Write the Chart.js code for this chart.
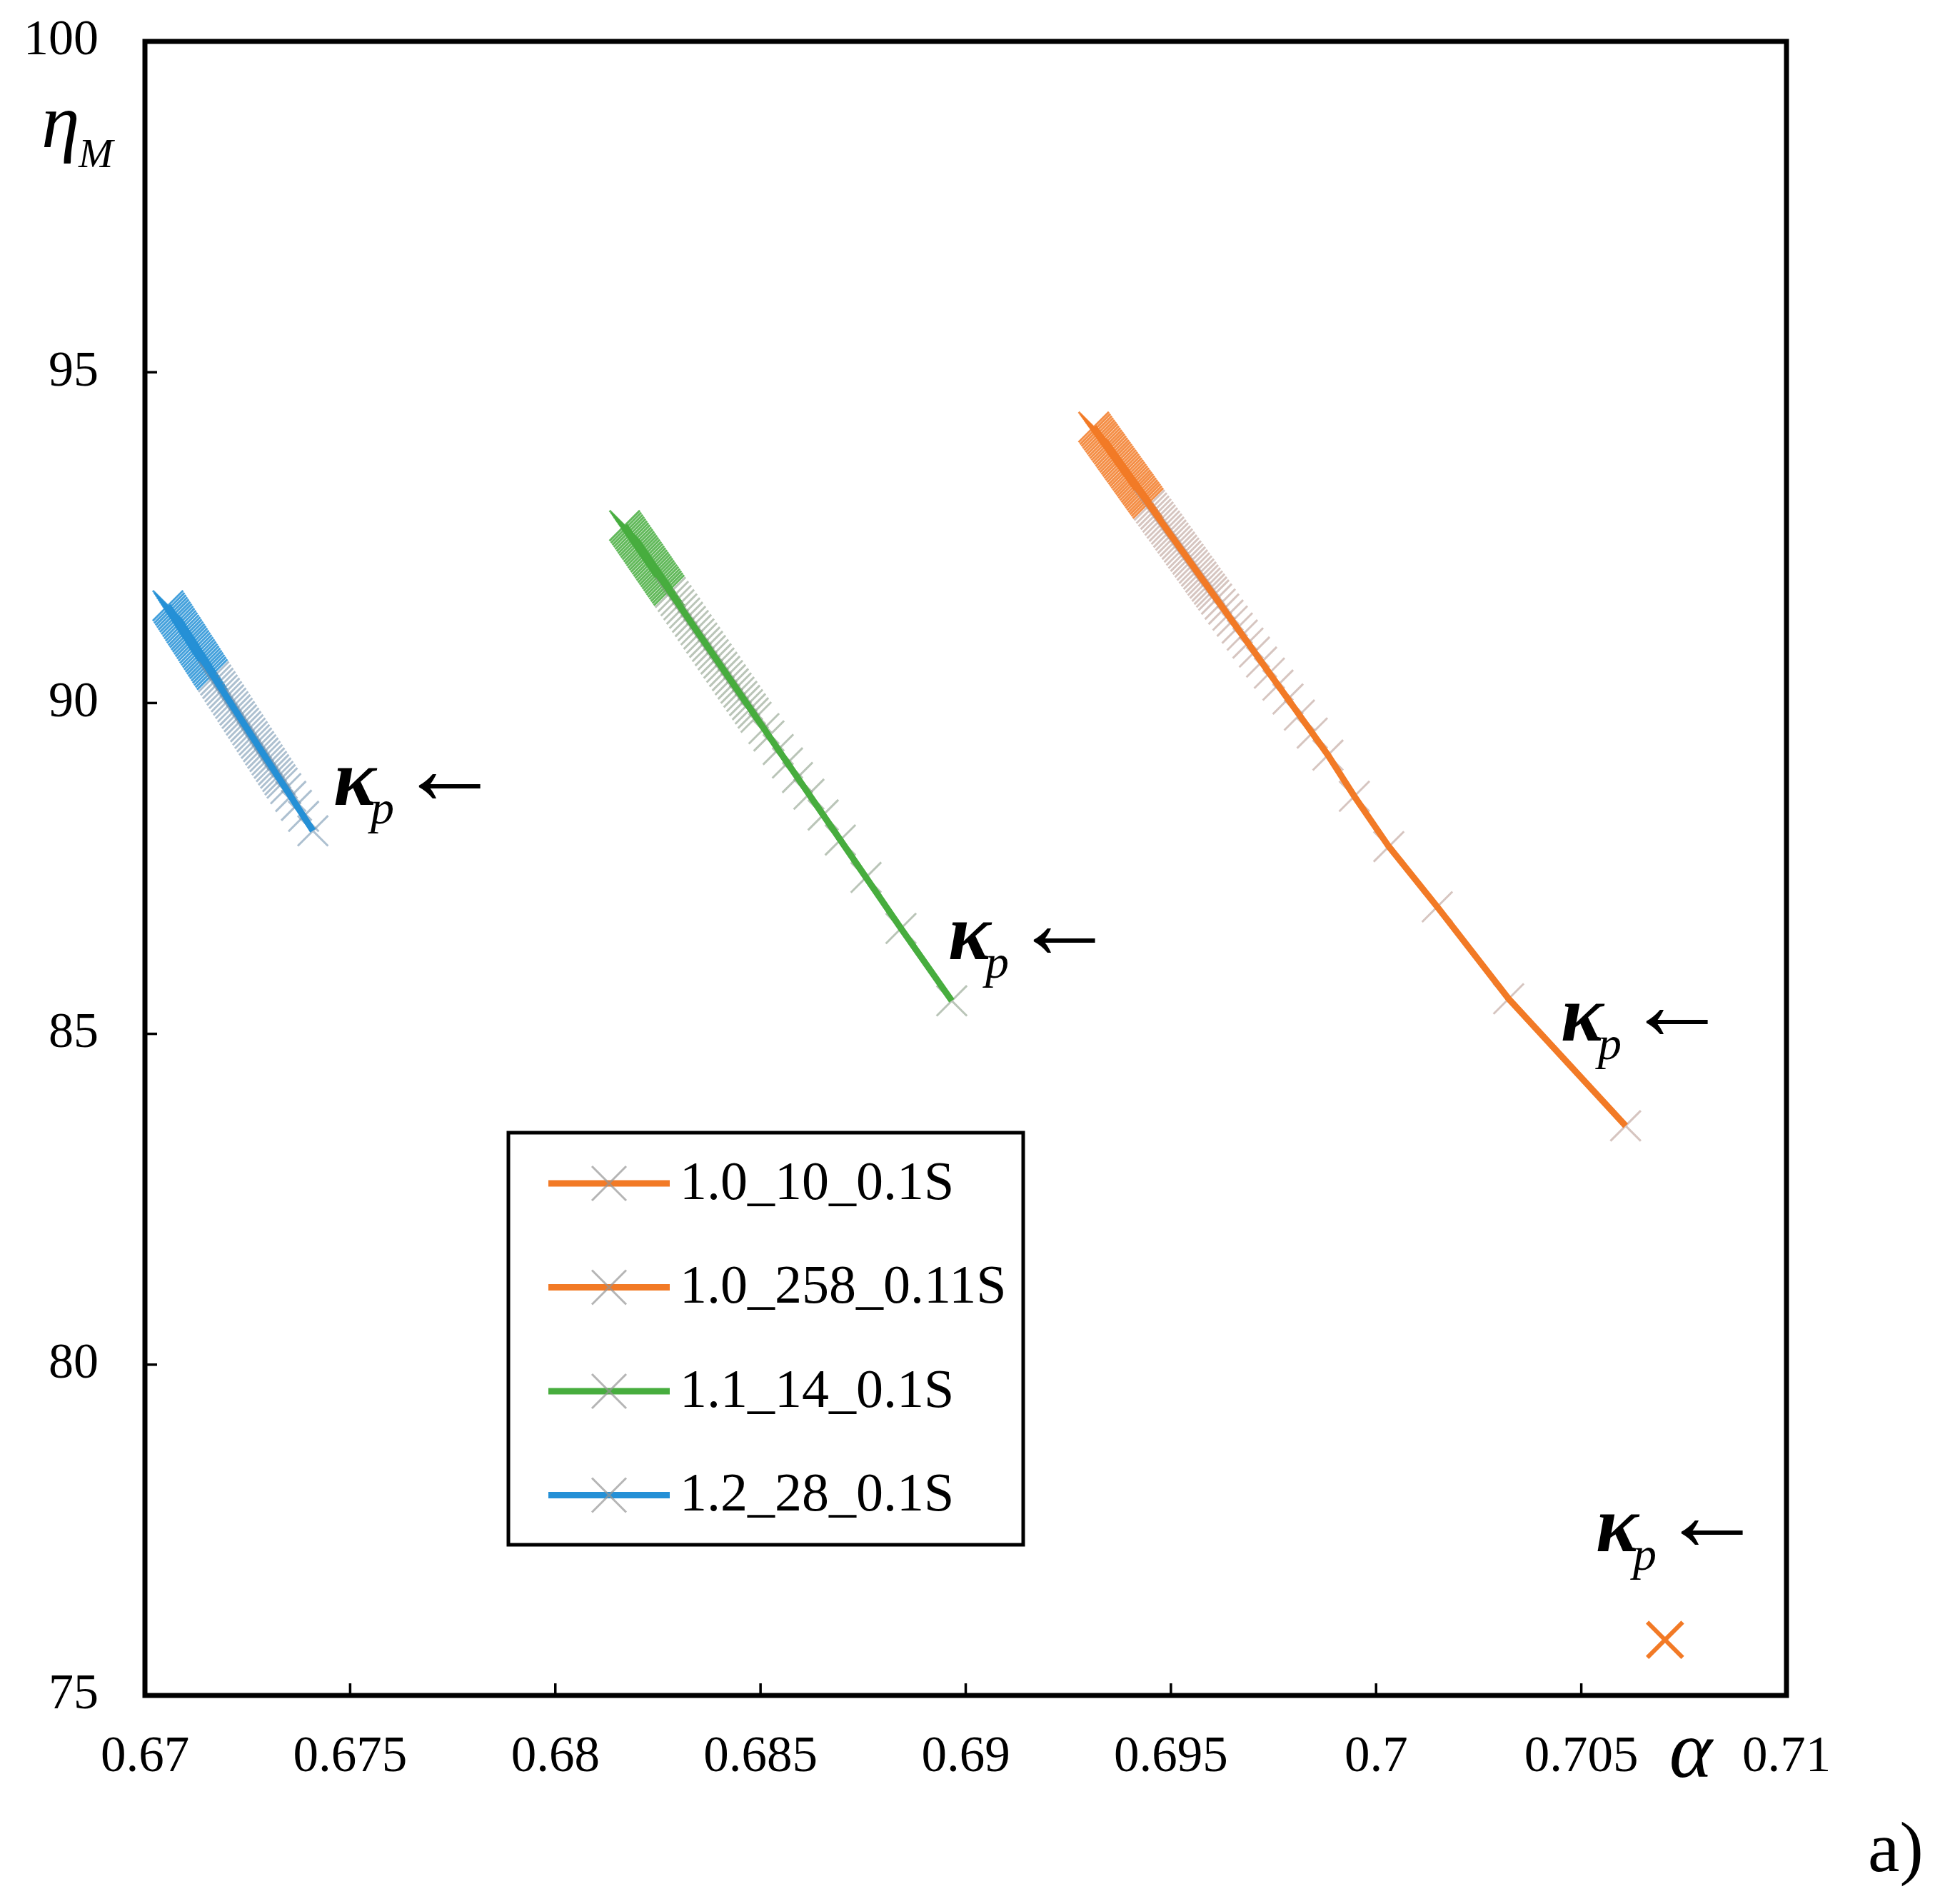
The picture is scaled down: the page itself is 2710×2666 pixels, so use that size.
<!DOCTYPE html>
<html>
<head>
<meta charset="utf-8">
<script src="https://cdn.jsdelivr.net/npm/chart.js@4.4.1/dist/chart.umd.min.js"></script>
<style>
html,body{margin:0;padding:0;background:#fff;}
canvas{display:block;}
</style>
</head>
<body>
<canvas id="c" width="2710" height="2666"></canvas>
<script>
// ---- data ----
const seriesNames = ['1.0_10_0.1S', '1.0_258_0.11S', '1.1_14_0.1S', '1.2_28_0.1S'];

// 1.0_10_0.1S (orange line) — points crowd together towards the top end
const alphaA = [
  0.693120,0.693155,0.693190,0.693224,0.693259,0.693294,0.693329,0.693364,0.693398,0.693433,
  0.693468,0.693503,0.693538,0.693572,0.693607,0.693642,0.693677,0.693712,0.693746,0.693781,
  0.693816,0.693851,0.693886,0.693920,0.693955,0.693990,0.694025,0.694060,0.694094,0.694129,
  0.694164,0.694199,0.694234,0.694268,0.694303,0.694338,0.694373,0.694408,0.694442,0.694477,
  0.694529,0.694582,0.694634,0.694686,0.694738,0.694790,0.694843,0.694895,0.694947,0.694999,
  0.695051,0.695103,0.695156,0.695208,0.695260,0.695312,0.695364,0.695417,0.695469,0.695521,
  0.695573,0.695625,0.695678,0.695730,0.695782,0.695834,0.695886,0.695939,0.695991,0.696043,
  0.696113,0.696200,0.696287,0.696391,0.696495,0.696617,0.696739,0.696878,0.697035,0.697209,
  0.697400,0.697609,0.697853,0.698131,0.698444,0.698827,0.69947,0.70031,0.70149,0.70323,0.70608];
const etaA = [
  94.170,94.140,94.110,94.079,94.049,94.019,93.989,93.958,93.928,93.898,
  93.868,93.838,93.807,93.777,93.747,93.717,93.686,93.656,93.626,93.596,
  93.566,93.535,93.505,93.475,93.445,93.414,93.384,93.354,93.324,93.293,
  93.263,93.233,93.203,93.173,93.142,93.112,93.082,93.052,93.021,92.991,
  92.946,92.901,92.855,92.810,92.765,92.719,92.674,92.629,92.583,92.538,
  92.493,92.447,92.402,92.357,92.311,92.266,92.221,92.175,92.130,92.085,
  92.039,91.994,91.949,91.903,91.858,91.813,91.767,91.722,91.677,91.631,
  91.571,91.495,91.420,91.329,91.238,91.133,91.027,90.906,90.770,90.619,
  90.452,90.271,90.060,89.818,89.546,89.213,88.59,87.83,86.92,85.53,83.61];

// 1.0_258_0.11S (single orange point)
const alphaB = [0.70704];
const etaB   = [75.84];

// 1.1_14_0.1S (green line)
const alphaC = [
  0.681690,0.681725,0.681760,0.681794,0.681829,0.681864,0.681899,0.681934,0.681968,0.682003,
  0.682038,0.682073,0.682108,0.682142,0.682177,0.682212,0.682247,0.682282,0.682316,0.682351,
  0.682386,0.682421,0.682456,0.682490,0.682525,0.682560,0.682595,0.682630,0.682664,0.682699,
  0.682734,0.682769,0.682804,
  0.682873,0.682943,0.683012,0.683082,0.683152,0.683221,0.683291,0.683360,0.683430,0.683499,
  0.683569,0.683639,0.683708,0.683778,0.683847,0.683917,0.683987,0.684056,0.684126,0.684195,
  0.684265,0.684335,0.684404,0.684474,0.684543,0.684613,0.684683,0.684752,0.684822,0.684891,
  0.685083,0.685205,0.685431,0.685657,0.685901,0.686179,0.686527,0.686945,0.687571,0.688423,0.689660];
const etaC = [
  92.680,92.649,92.617,92.586,92.554,92.523,92.491,92.460,92.428,92.397,
  92.365,92.334,92.303,92.271,92.240,92.208,92.177,92.145,92.114,92.082,
  92.051,92.019,91.988,91.957,91.925,91.894,91.862,91.831,91.799,91.768,
  91.736,91.705,91.673,
  91.610,91.548,91.485,91.422,91.359,91.296,91.233,91.170,91.107,91.044,
  90.981,90.918,90.856,90.793,90.730,90.667,90.604,90.541,90.478,90.415,
  90.352,90.289,90.226,90.164,90.101,90.038,89.975,89.912,89.849,89.786,
  89.613,89.503,89.298,89.094,88.874,88.622,88.308,87.930,87.364,86.593,85.500];

// 1.2_28_0.1S (blue line)
const alphaD = [
  0.670560,0.670595,0.670630,0.670664,0.670699,0.670734,0.670769,0.670804,0.670838,0.670873,
  0.670908,0.670943,0.670978,0.671012,0.671047,0.671082,0.671117,0.671152,0.671186,0.671221,
  0.671256,0.671291,0.671326,0.671360,0.671395,0.671430,0.671465,0.671500,0.671534,0.671569,
  0.671604,0.671639,0.671674,
  0.671726,0.671778,0.671830,0.671882,0.671935,0.671987,0.672039,0.672091,0.672143,0.672196,
  0.672248,0.672300,0.672352,0.672404,0.672456,0.672509,0.672561,0.672613,0.672665,0.672717,
  0.672770,0.672822,0.672874,0.672926,0.672978,0.673031,0.673083,0.673135,0.673187,0.673239,
  0.673292,0.673344,
  0.673431,0.673553,0.673692,0.673866,0.674092];
const etaD = [
  91.470,91.436,91.403,91.369,91.336,91.302,91.269,91.235,91.202,91.168,
  91.135,91.101,91.068,91.034,91.001,90.967,90.934,90.900,90.867,90.833,
  90.800,90.766,90.733,90.699,90.666,90.632,90.599,90.565,90.532,90.498,
  90.465,90.431,90.398,
  90.348,90.297,90.247,90.197,90.147,90.096,90.046,89.996,89.945,89.895,
  89.845,89.795,89.744,89.694,89.644,89.594,89.543,89.493,89.443,89.393,
  89.342,89.292,89.242,89.192,89.141,89.091,89.041,88.991,88.940,88.890,
  88.840,88.790,
  88.706,88.589,88.454,88.287,88.069];

// axis ticks
const xTickValues = [0.67,0.675,0.68,0.685,0.69,0.695,0.7,0.705,0.71];
const xTickLabels = ['0.67','0.675','0.68','0.685','0.69','0.695','0.7','0.705','0.71'];
const yTickValues = [75,80,85,90,95,100];
const yTickLabels = ['75','80','85','90','95','100'];

// κp annotation anchors (data coords: left/baseline of κ)
const kappaAlpha = [0.674593, 0.689574, 0.704502, 0.705355];
const kappaEta   = [88.46, 86.13, 84.90, 77.18];

// ---- styles ----
const ORANGE = '#f27a26';
const GREEN  = '#47ad3e';
const BLUE   = '#2590d6';
const SERIF  = '"Liberation Serif", "Times New Roman", serif';

function pts(xs, ys){ return xs.map((v,i)=>({x:v, y:ys[i]})); }

// markers that pile up (neighbour closer than a few pixels) merge into the series colour,
// isolated markers look greyish as in the reference
function markerColor(dense, sparse){
  return (c) => {
    const ch = c.chart, d = c.dataset.data, i = c.dataIndex;
    if (!ch.scales || !ch.scales.x || !d[i]) return sparse;
    const q = d[i + 1] || d[i - 1];
    if (!q) return sparse;
    const dx = ch.scales.x.getPixelForValue(d[i].x) - ch.scales.x.getPixelForValue(q.x);
    const dy = ch.scales.y.getPixelForValue(d[i].y) - ch.scales.y.getPixelForValue(q.y);
    return Math.hypot(dx, dy) < 4.5 ? dense : sparse;
  };
}

// each series: markers (drawn underneath) + connecting line (drawn on top)
function seriesSets(label, xs, ys, color, dense, sparse){
  return [
    {
      label, data: pts(xs, ys), showLine: true, borderColor: color, backgroundColor: color,
      borderWidth: 9, tension: 0, pointRadius: 0, pointHoverRadius: 0, order: 0,
      legendColor: color, inLegend: true
    },
    {
      label: label + ' markers', data: pts(xs, ys), showLine: false,
      pointStyle: 'crossRot', pointRadius: 30, pointHoverRadius: 30, order: 1,
      pointBorderColor: markerColor(dense, sparse), pointBackgroundColor: 'rgba(0,0,0,0)',
      pointBorderWidth: 3, borderColor: color, backgroundColor: color, inLegend: false
    }
  ];
}

const decor = {
  id: 'decor',
  afterDraw(chart){
    const {ctx, chartArea: a, scales: {x, y}} = chart;
    ctx.save();
    // frame
    ctx.strokeStyle = '#000';
    ctx.lineWidth = 7;
    ctx.strokeRect(a.left, a.top, a.right - a.left, a.bottom - a.top);
    // inward ticks
    ctx.lineWidth = 3.5;
    x.ticks.forEach(t => {
      const px = x.getPixelForValue(t.value);
      ctx.beginPath(); ctx.moveTo(px, a.bottom); ctx.lineTo(px, a.bottom - 17); ctx.stroke();
    });
    y.ticks.forEach(t => {
      const py = y.getPixelForValue(t.value);
      ctx.beginPath(); ctx.moveTo(a.left, py); ctx.lineTo(a.left + 17, py); ctx.stroke();
    });

    ctx.fillStyle = '#000';
    ctx.textBaseline = 'alphabetic';
    ctx.textAlign = 'left';
    // axis titles
    ctx.font = 'italic 108px ' + SERIF;
    ctx.fillText('η', 58, 206);
    ctx.font = 'italic 58px ' + SERIF;
    ctx.fillText('M', 110, 234);
    ctx.font = 'italic 115px ' + SERIF;
    ctx.textAlign = 'center';
    ctx.fillText('α', 2368, 2488);
    ctx.font = '100px ' + SERIF;
    ctx.textAlign = 'left';
    ctx.fillText('a)', 2616, 2620);

    // κp ← annotations
    kappaAlpha.forEach((av, i) => {
      const px = x.getPixelForValue(av);
      const py = y.getPixelForValue(kappaEta[i]);
      ctx.font = 'italic bold 112px ' + SERIF;
      ctx.fillText('κ', px, py);
      ctx.font = 'italic 66px ' + SERIF;
      ctx.fillText('p', px + 52, py + 26);
      ctx.font = '145px ' + SERIF;
      ctx.fillText('←', px + 90, py - 2);
    });

    // legend
    const lx = a.left + 509, ly = a.top + 1528, lw = 721, lh = 577;
    ctx.fillStyle = '#fff';
    ctx.fillRect(lx, ly, lw, lh);
    ctx.strokeStyle = '#000';
    ctx.lineWidth = 5;
    ctx.strokeRect(lx, ly, lw, lh);
    chart.data.datasets.filter(d => d.inLegend).forEach((d, i) => {
      const cy = ly + 71 + i * 145.5;
      ctx.strokeStyle = d.legendColor;
      ctx.lineWidth = 9;
      ctx.beginPath(); ctx.moveTo(lx + 56, cy); ctx.lineTo(lx + 226, cy); ctx.stroke();
      ctx.strokeStyle = 'rgba(150,150,150,0.7)';
      ctx.lineWidth = 3;
      const r = 24, cx = lx + 141;
      ctx.beginPath();
      ctx.moveTo(cx - r, cy - r); ctx.lineTo(cx + r, cy + r);
      ctx.moveTo(cx - r, cy + r); ctx.lineTo(cx + r, cy - r);
      ctx.stroke();
      ctx.fillStyle = '#000';
      ctx.font = '76px ' + SERIF;
      ctx.textBaseline = 'middle';
      ctx.fillText(d.label, lx + 240, cy + 2);
      ctx.textBaseline = 'alphabetic';
    });
    ctx.restore();
  }
};

new Chart(document.getElementById('c').getContext('2d'), {
  type: 'scatter',
  data: {
    datasets: [
      ...seriesSets(seriesNames[0], alphaA, etaA, ORANGE, 'rgba(242,122,38,0.85)', 'rgba(180,150,140,0.55)'),
      {
        label: seriesNames[1], data: pts(alphaB, etaB), showLine: false,
        pointStyle: 'crossRot', pointRadius: 35, pointHoverRadius: 35, order: 0,
        pointBorderColor: ORANGE, pointBackgroundColor: 'rgba(0,0,0,0)', pointBorderWidth: 6,
        borderColor: ORANGE, backgroundColor: ORANGE, legendColor: ORANGE, inLegend: true
      },
      ...seriesSets(seriesNames[2], alphaC, etaC, GREEN, 'rgba(71,173,62,0.85)', 'rgba(130,150,125,0.55)'),
      ...seriesSets(seriesNames[3], alphaD, etaD, BLUE, 'rgba(37,144,214,0.85)', 'rgba(105,140,170,0.55)')
    ]
  },
  options: {
    responsive: false,
    animation: false,
    devicePixelRatio: 1,
    layout: { padding: { top: 58, right: 208, left: 0, bottom: 0 } },
    plugins: { legend: { display: false }, tooltip: { enabled: false } },
    scales: {
      x: {
        type: 'linear', min: 0.67, max: 0.71,
        afterFit(s){ s.height = 292; s.paddingLeft = 0; s.paddingRight = 0; },
        afterBuildTicks(s){ s.ticks = xTickValues.map(v => ({value: v})); },
        ticks: {
          callback: (v, i) => xTickLabels[i],
          font: { family: SERIF, size: 71 }, color: '#000',
          padding: 45, maxRotation: 0, autoSkip: false
        },
        grid: { display: false, drawTicks: false },
        border: { display: false }
      },
      y: {
        type: 'linear', min: 75, max: 100,
        afterFit(s){ s.width = 203; s.paddingTop = 0; s.paddingBottom = 0; },
        afterBuildTicks(s){ s.ticks = yTickValues.map(v => ({value: v})); },
        ticks: {
          callback: (v, i) => yTickLabels[i],
          font: { family: SERIF, size: 70 }, color: '#000',
          padding: 65, autoSkip: false
        },
        grid: { display: false, drawTicks: false },
        border: { display: false }
      }
    }
  },
  plugins: [decor]
});
</script>
</body>
</html>
